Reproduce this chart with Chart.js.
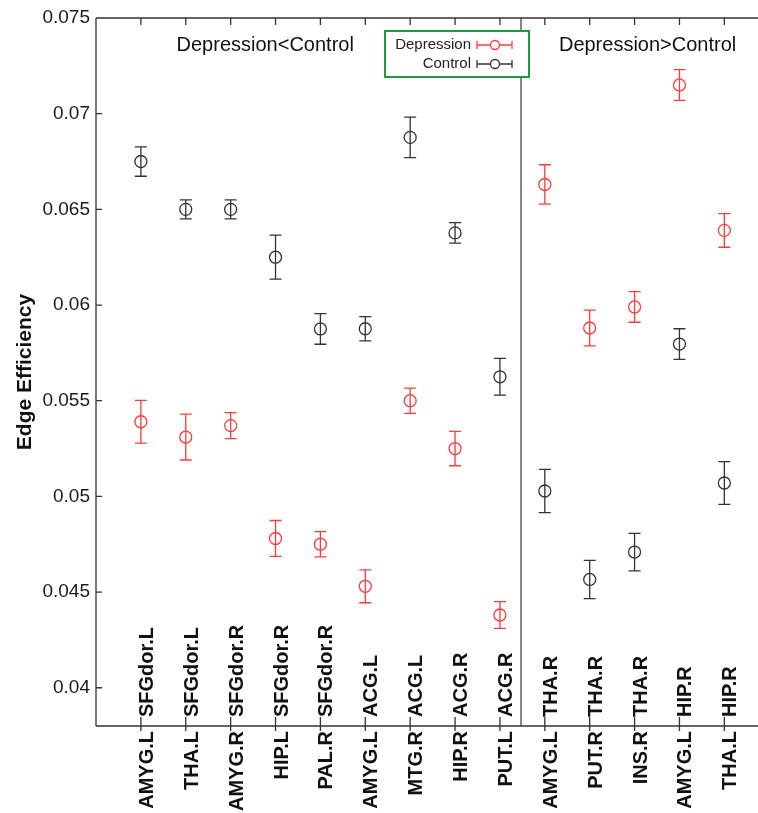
<!DOCTYPE html>
<html>
<head>
<meta charset="utf-8">
<script src="https://cdn.jsdelivr.net/npm/chart.js@4.4.0/dist/chart.umd.min.js"></script>
<style>
  html, body { margin: 0; padding: 0; background: #fff; overflow: hidden; }
</style>
</head>
<body>
<canvas id="grafico" width="758" height="813"></canvas>
<script>
// categorie: parte sotto l'asse - parte sopra l'asse
const categorie = [
    'AMYG.L-SFGdor.L', 'THA.L-SFGdor.L', 'AMYG.R-SFGdor.R', 'HIP.L-SFGdor.R', 'PAL.R-SFGdor.R',
    'AMYG.L-ACG.L', 'MTG.R-ACG.L', 'HIP.R-ACG.R', 'PUT.L-ACG.R',
    'AMYG.L-THA.R', 'PUT.R-THA.R', 'INS.R-THA.R', 'AMYG.L-HIP.R', 'THA.L-HIP.R'
];
const depressione = [0.0539, 0.0531, 0.0537, 0.0478, 0.0475, 0.0453, 0.0550, 0.0525, 0.0438,
                     0.0663, 0.0588, 0.0599, 0.0715, 0.0639];
const depressioneErr = [0.00112, 0.0012, 0.00068, 0.00094, 0.00066, 0.00086, 0.00066, 0.0009, 0.0007,
                        0.00103, 0.00093, 0.0008, 0.0008, 0.00088];
const controllo = [0.0675, 0.0650, 0.0650, 0.0625, 0.05875, 0.05876, 0.06876, 0.06377, 0.05625,
                   0.05028, 0.04566, 0.04709, 0.05796, 0.0507];
const controlloErr = [0.00077, 0.0005, 0.0005, 0.00115, 0.0008, 0.00063, 0.00106, 0.00054, 0.00096,
                      0.00113, 0.001, 0.00098, 0.0008, 0.00112];
const tickY = [0.04, 0.045, 0.05, 0.055, 0.06, 0.065, 0.07, 0.075];

const ROSSO = '#ff3c3c';
const NERO = '#333333';
const FONT = '"Liberation Sans", Arial, sans-serif';

const canvas = document.getElementById('grafico').getContext('2d');

// barre di errore, disegnate prima dei cerchi
const barreErrore = {
    id: 'barreErrore',
    beforeDatasetsDraw(chart) {
        const c = chart.ctx;
        const sx = chart.scales.x, sy = chart.scales.y;
        chart.data.datasets.forEach(ds => {
            c.save();
            c.strokeStyle = ds.borderColor;
            c.lineWidth = 1.3;
            ds.data.forEach((p, i) => {
                const px = sx.getPixelForValue(p.x);
                const y1 = sy.getPixelForValue(p.y + ds.errori[i]);
                const y2 = sy.getPixelForValue(p.y - ds.errori[i]);
                c.beginPath();
                c.moveTo(px, y1); c.lineTo(px, y2);
                c.moveTo(px - 6, y1); c.lineTo(px + 6, y1);
                c.moveTo(px - 6, y2); c.lineTo(px + 6, y2);
                c.stroke();
            });
            c.restore();
        });
    }
};

// assi, etichette, divisore, legenda
const decorazioni = {
    id: 'decorazioni',
    afterDraw(chart) {
        const c = chart.ctx;
        const a = chart.chartArea;
        const sx = chart.scales.x, sy = chart.scales.y;
        c.save();
        c.strokeStyle = '#333';
        c.lineWidth = 1.3;
        // cornice sinistra, sopra, sotto
        c.beginPath();
        c.moveTo(a.left, a.top); c.lineTo(a.right, a.top);
        c.moveTo(a.left, a.top); c.lineTo(a.left, a.bottom);
        c.moveTo(a.left, a.bottom); c.lineTo(a.right, a.bottom);
        tickY.forEach(v => {
            const py = sy.getPixelForValue(v);
            c.moveTo(a.left, py); c.lineTo(a.left + 6, py);
        });
        categorie.forEach((cat, i) => {
            const px = sx.getPixelForValue(i + 1);
            c.moveTo(px, a.top); c.lineTo(px, a.top + 7);
            c.moveTo(px, a.bottom - 9); c.lineTo(px, a.bottom + 5);
        });
        c.stroke();

        // divisore
        const xd = sx.getPixelForValue(9.47);
        c.strokeStyle = '#444';
        c.beginPath();
        c.moveTo(xd, a.top); c.lineTo(xd, a.bottom);
        c.stroke();

        // etichette categorie ruotate
        c.fillStyle = '#111';
        c.font = 'bold 20px ' + FONT;
        c.textBaseline = 'alphabetic';
        categorie.forEach((cat, i) => {
            const parti = cat.split('-');
            const px = sx.getPixelForValue(i + 1);
            c.save();
            c.translate(px, a.bottom);
            c.rotate(-Math.PI / 2);
            c.textAlign = 'right';
            c.fillText(parti[0], -5, 12);
            c.textAlign = 'left';
            c.fillText(parti[1], 9, 12);
            c.restore();
        });

        // titoli delle due sezioni
        c.font = '20px ' + FONT;
        c.textAlign = 'center';
        c.textBaseline = 'middle';
        c.fillText('Depression<Control', sx.getPixelForValue(3.77), 45);
        c.fillText('Depression>Control', sx.getPixelForValue(12.29), 45);

        // legenda
        c.fillStyle = '#fff';
        c.fillRect(385, 31, 144, 46);
        c.strokeStyle = '#1f9a3e';
        c.lineWidth = 2;
        c.strokeRect(385, 31, 144, 46);
        c.font = '15px ' + FONT;
        c.textAlign = 'right';
        [['Depression', ROSSO, 45], ['Control', NERO, 64]].forEach(([t, col, y]) => {
            c.fillStyle = '#222';
            c.fillText(t, 471, y);
            c.strokeStyle = col;
            c.lineWidth = 1.3;
            c.beginPath();
            c.moveTo(477, y); c.lineTo(490.5, y);
            c.moveTo(499.5, y); c.lineTo(512, y);
            c.moveTo(477, y - 4); c.lineTo(477, y + 4);
            c.moveTo(512, y - 4); c.lineTo(512, y + 4);
            c.stroke();
            c.beginPath();
            c.arc(495, y, 4.5, 0, Math.PI * 2);
            c.stroke();
        });
        c.restore();
    }
};

const grafico = new Chart(canvas, {
    type: 'scatter',
    data: {
        datasets: [{
            label: 'Control',
            data: controllo.map((v, i) => ({ x: i + 1, y: v })),
            errori: controlloErr,
            borderColor: NERO,
            backgroundColor: 'rgba(0,0,0,0)',
            pointRadius: 6,
            pointBorderWidth: 1.3
        }, {
            label: 'Depression',
            data: depressione.map((v, i) => ({ x: i + 1, y: v })),
            errori: depressioneErr,
            borderColor: ROSSO,
            backgroundColor: 'rgba(0,0,0,0)',
            pointRadius: 6,
            pointBorderWidth: 1.3
        }]
    },
    options: {
        responsive: false,
        animation: false,
        layout: { autoPadding: false, padding: { top: 18, right: 0, bottom: 87, left: 0 } },
        plugins: { legend: { display: false }, tooltip: { enabled: false } },
        scales: {
            x: { type: 'linear', min: 0, max: 14.75, display: false, ticks: { display: false } },
            y: {
                min: 0.038,
                max: 0.075,
                afterBuildTicks: s => { s.ticks = tickY.map(v => ({ value: v })); },
                afterFit: s => { s.width = 96; },
                grid: { display: false, drawTicks: false, tickLength: 0 },
                border: { display: false },
                ticks: {
                    padding: 6,
                    color: '#1a1a1a',
                    font: { family: FONT, size: 19 },
                    callback: v => String(+v.toFixed(3))
                },
                title: {
                    display: true,
                    text: 'Edge Efficiency',
                    color: '#111',
                    font: { family: FONT, size: 21, weight: 'bold' },
                    padding: { top: 13, bottom: 0 }
                }
            }
        }
    },
    plugins: [barreErrore, decorazioni]
});
</script>
</body>
</html>
